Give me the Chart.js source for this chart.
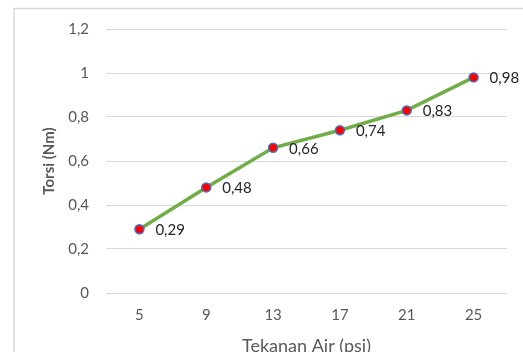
<!DOCTYPE html>
<html>
<head>
<meta charset="utf-8">
<script src="https://cdn.jsdelivr.net/npm/chart.js@4.4.1/dist/chart.umd.min.js"></script>
<style>
  html, body { margin: 0; padding: 0; background: #fff; }
  #wrap { position: relative; width: 523px; height: 352px; overflow: hidden; }
  canvas { display: block; }
</style>
</head>
<body>
<div id="wrap"><canvas id="c" width="523" height="352"></canvas></div>
<script>
// Water pressure (psi) against measured torque (Nm)
const pressures = ['5', '9', '13', '17', '21', '25'];
const torque = [0.29, 0.48, 0.66, 0.74, 0.83, 0.98];
const yTicks = [0, 0.2, 0.4, 0.6, 0.8, 1, 1.2];

const FONT = 'Lato, "Open Sans", sans-serif';
const fmt = v => String(Math.round(v * 100) / 100).replace('.', ',');

// Light outer frame of the chart box (left and top edges)
const framePlugin = {
  id: 'frame',
  beforeDraw(chart) {
    const ctx = chart.ctx;
    ctx.save();
    ctx.strokeStyle = '#d9d9d9';
    ctx.lineWidth = 1.5;
    ctx.beginPath();
    ctx.moveTo(14, 352);
    ctx.lineTo(14, 8.5);
    ctx.lineTo(523, 8.5);
    ctx.stroke();
    ctx.restore();
  }
};

// Value labels to the right of each point
const valueLabels = {
  id: 'valueLabels',
  afterDatasetsDraw(chart) {
    const ctx = chart.ctx;
    const meta = chart.getDatasetMeta(0);
    ctx.save();
    ctx.font = '15px ' + FONT;
    ctx.fillStyle = '#262626';
    ctx.textAlign = 'left';
    ctx.textBaseline = 'middle';
    meta.data.forEach((pt, i) => {
      ctx.fillText(fmt(chart.data.datasets[0].data[i]), pt.x + 16, pt.y + 1);
    });
    ctx.restore();
  }
};

new Chart(document.getElementById('c'), {
  type: 'line',
  data: {
    labels: pressures,
    datasets: [{
      data: torque,
      borderColor: '#70ad47',
      borderWidth: 3.5,
      pointBackgroundColor: '#ff0000',
      pointBorderColor: '#4472c4',
      pointBorderWidth: 1.5,
      pointRadius: 4.5,
      tension: 0,
      fill: false
    }]
  },
  options: {
    responsive: false,
    animation: false,
    devicePixelRatio: 1,
    layout: { padding: { left: 40, right: 16, top: 29, bottom: 0 } },
    plugins: { legend: { display: false }, tooltip: { enabled: false } },
    scales: {
      x: {
        offset: true,
        grid: { display: false, drawTicks: false },
        border: { display: false },
        ticks: { color: '#595959', font: { family: FONT, size: 15 }, padding: 13 },
        title: {
          display: true, text: 'Tekanan Air (psi)', color: '#595959',
          font: { family: FONT, size: 18 }, padding: { top: 8, bottom: -5 }
        },
        afterFit(s) { s.height = 59; }
      },
      y: {
        min: 0, max: 1.2,
        afterBuildTicks(s) { s.ticks = yTicks.map(v => ({ value: v })); },
        grid: { color: '#d9d9d9', lineWidth: 1, drawTicks: false },
        border: { display: false },
        ticks: {
          color: '#595959', font: { family: FONT, size: 15 }, padding: 17,
          callback: v => fmt(v)
        },
        title: {
          display: true, text: 'Torsi (Nm)', color: '#595959',
          font: { family: FONT, size: 15, weight: 'bold' }, padding: { top: 0, bottom: 0 }
        },
        afterFit(s) { s.width = 66; }
      }
    }
  },
  plugins: [framePlugin, valueLabels]
});
</script>
</body>
</html>
